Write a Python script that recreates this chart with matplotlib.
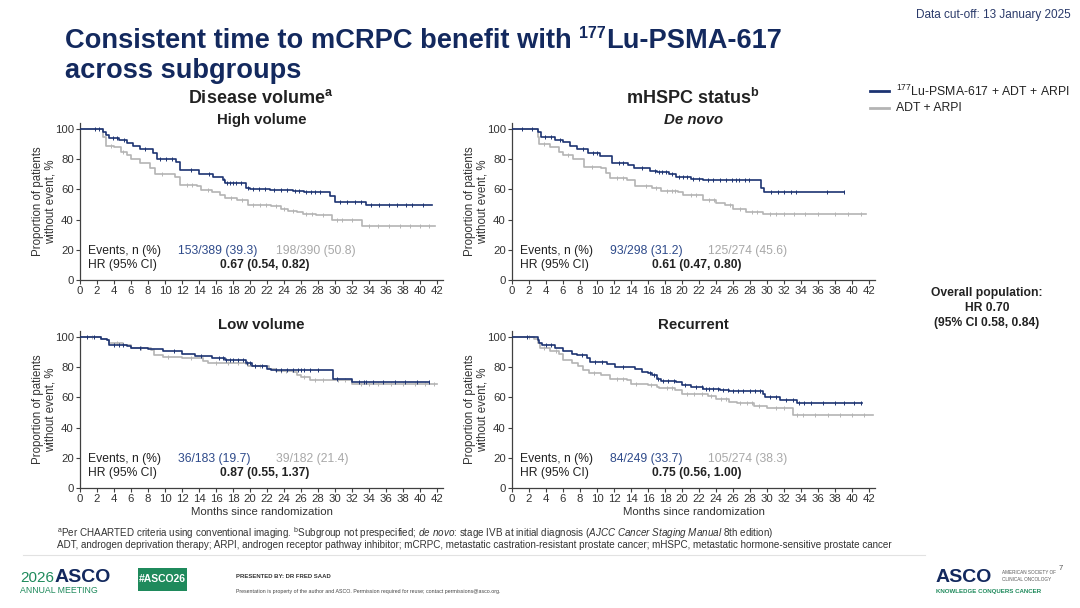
import matplotlib.pyplot as plt
from matplotlib.patches import Rectangle
import numpy as np

plt.rcParams['font.family'] = ['Liberation Sans', 'DejaVu Sans']
plt.rcParams['mathtext.fontset'] = 'custom'
plt.rcParams['mathtext.rm'] = 'Liberation Sans'
plt.rcParams['mathtext.bf'] = 'Liberation Sans:bold'
plt.rcParams['mathtext.it'] = 'Liberation Sans:italic'

NAVY = "#1c3372"
GRAY = "#b4b4b4"
TXT_NAVY = "#2e4a8a"
TXT_GRAY = "#a8a8a8"
TITLE = "#13295e"
AX = "#404040"

# ---- Kaplan-Meier step data (time in months, % without event) ----
# High volume
hv_lu_t = [0, 2.7, 3.0, 3.4, 4.6, 5.5, 6.2, 7.0, 8.6, 9.0, 11.3, 11.8, 14.0, 15.7, 16.8, 17.1,
           19.5, 20.0, 22.4, 25.0, 26.3, 29.4, 30.0, 33.7, 41.4]
hv_lu_s = [100, 98, 96, 94, 93, 91, 89, 87, 84, 80, 78, 73, 70, 68, 66, 64,
           61, 60, 59.5, 59, 58, 55.5, 52, 50, 50]
hv_lu_c = [1.8, 2.2, 3.9, 4.4, 5.2, 7.6, 9.4, 10.1, 10.8, 13.0, 15.2, 16.9, 17.3, 17.6, 18.0, 18.4,
           18.9, 19.8, 20.3, 21.0, 21.8, 22.8, 23.6, 24.4, 25.3, 25.8, 26.6, 27.2, 27.7, 28.2,
           30.6, 31.4, 32.3, 33.0, 34.2, 35.2, 36.3, 37.3, 38.4, 39.1, 40.3]
hv_adt_t = [0, 2.7, 3.0, 4.0, 4.8, 5.5, 6.0, 7.0, 8.2, 8.8, 11.2, 11.8, 13.8, 14.2, 15.5, 16.5,
            17.0, 18.5, 19.8, 22.5, 23.6, 24.5, 25.5, 26.2, 27.8, 29.7, 31.0, 33.2, 41.8]
hv_adt_s = [100, 95, 89, 88, 85, 83, 80, 77.5, 74, 70.5, 68, 63, 62, 59.5, 58, 56,
            54, 53, 50, 49, 47, 46, 45, 43.5, 43, 40, 39.5, 35.5, 35.5]
hv_adt_c = [3.6, 5.0, 9.6, 12.6, 13.2, 15.0, 17.8, 19.0, 20.4, 21.2, 21.9, 23.0, 24.0, 25.0, 26.6,
            27.3, 28.6, 30.2, 30.8, 32.0, 34.0, 35.0, 36.3, 37.6, 38.8, 40.0, 41.0]

# De novo
dn_lu_t = [0, 3.0, 3.4, 5.0, 6.0, 6.8, 7.7, 8.9, 10.4, 11.8, 13.6, 14.4, 16.2, 17.0, 18.5, 19.3,
           21.0, 22.5, 29.3, 29.7, 39.1]
dn_lu_s = [100, 98, 94.5, 93, 91.5, 89, 87, 84, 82, 77.5, 76, 74, 72, 71.3, 70, 68,
           67, 66, 61, 58.5, 58.5]
dn_lu_c = [1.2, 2.4, 3.9, 4.6, 5.6, 8.3, 9.5, 10.0, 12.6, 13.0, 15.3, 16.8, 17.3, 17.7, 18.1, 18.8,
           19.6, 20.1, 20.6, 21.3, 22.0, 23.0, 23.7, 24.5, 25.2, 25.9, 26.3, 26.7, 27.4, 27.9,
           30.5, 31.3, 32.0, 32.8, 33.4, 37.0, 39.0]
dn_adt_t = [0, 3.0, 3.2, 4.5, 5.5, 6.0, 7.2, 8.5, 10.5, 11.0, 11.5, 13.5, 14.5, 16.5, 17.5, 19.5,
            20.1, 22.5, 24.0, 25.0, 26.0, 27.5, 29.5, 41.6]
dn_adt_s = [100, 95, 90, 88, 85, 82.5, 80, 75, 74, 71, 67.5, 66, 62.5, 61, 59, 58,
            56, 53.3, 51, 49.5, 47, 45, 43.7, 43.7]
dn_adt_c = [3.8, 6.6, 9.4, 12.4, 13.0, 15.8, 16.9, 18.2, 18.8, 19.2, 21.0, 21.7, 23.2, 23.8, 25.6,
            26.8, 28.2, 28.8, 30.3, 31.0, 32.0, 33.2, 34.5, 36.0, 38.0, 39.5, 41.0]

# Low volume
lv_lu_t = [0, 2.5, 3.2, 3.4, 5.5, 6.0, 8.0, 9.8, 12.0, 13.5, 15.5, 17.0, 19.5, 20.2, 22.0, 22.5,
           29.8, 32.0, 41.0]
lv_lu_s = [100, 99, 98, 95, 94, 93, 92, 90.5, 89, 87.5, 86, 84.5, 83, 81, 79, 78,
           72.5, 70, 70]
lv_lu_c = [0.8, 1.6, 4.0, 4.6, 5.0, 7.0, 11.0, 14.2, 16.4, 16.8, 17.2, 17.6, 18.0, 18.6, 19.2,
           19.7, 20.0, 20.6, 21.4, 23.0, 23.6, 24.4, 25.0, 25.6, 26.0, 26.4, 27.0, 28.0, 30.2,
           32.8, 33.4, 33.7, 34.5, 35.6, 37.0, 38.2, 39.6, 41.0]
lv_adt_t = [0, 2.5, 3.2, 3.4, 5.0, 6.0, 8.3, 8.7, 9.8, 12.0, 14.5, 15.0, 19.5, 19.8, 22.2, 23.0,
            25.0, 25.5, 26.0, 27.0, 32.0, 42.0]
lv_adt_s = [100, 99, 98, 96, 95, 93, 91.5, 88, 87, 86, 84, 83, 82, 80.5, 79, 77.5,
            77, 75, 73.5, 71.5, 68.8, 68.8]
lv_adt_c = [1.4, 4.4, 7.2, 10.4, 13.0, 16.0, 17.4, 18.6, 20.6, 21.2, 23.6, 24.2, 26.4, 27.6, 28.6,
            30.4, 31.2, 33.0, 34.0, 35.0, 36.6, 38.0, 39.4, 40.6, 41.6]

# Recurrent
re_lu_t = [0, 3.0, 3.2, 3.5, 5.0, 6.0, 7.0, 7.6, 8.8, 9.2, 11.2, 12.1, 14.5, 15.3, 16.0, 16.5,
           17.0, 17.5, 19.3, 20.0, 21.0, 22.5, 24.5, 25.5, 29.5, 29.8, 31.5, 33.5, 41.2]
re_lu_s = [100, 98, 96, 95, 93, 91, 89, 88.4, 86, 83.5, 82, 80, 79, 77, 76, 75,
           72, 71, 70, 68, 67, 65.7, 65, 64, 62, 60, 58, 56, 56]
re_lu_c = [1.8, 4.0, 4.6, 8.2, 9.8, 10.6, 13.0, 16.2, 16.7, 17.2, 17.8, 18.3, 19.0, 20.4, 21.6,
           22.3, 22.8, 23.2, 23.7, 24.2, 24.8, 25.4, 26.0, 26.6, 27.2, 28.0, 28.6, 29.2, 30.4,
           31.0, 32.2, 33.0, 33.8, 34.4, 35.2, 36.6, 38.0, 39.0, 40.2, 41.0]
re_adt_t = [0, 2.6, 3.0, 3.3, 4.5, 5.5, 6.0, 7.0, 7.8, 8.4, 9.0, 10.5, 11.5, 13.5, 14.0, 16.0,
            17.0, 17.3, 19.2, 20.0, 23.0, 24.0, 25.5, 26.5, 28.5, 30.0, 33.1, 42.5]
re_adt_s = [100, 99, 96, 93, 91, 89, 85, 83, 81, 78, 76, 75, 72, 71.5, 69, 68,
            67, 66, 65, 62, 61, 59, 57, 56, 54, 53, 48.3, 48.3]
re_adt_c = [2.0, 3.8, 5.2, 9.6, 12.4, 13.0, 14.6, 16.4, 18.2, 18.8, 20.6, 21.4, 22.4, 23.4, 24.6,
            25.2, 26.8, 27.6, 28.2, 29.0, 31.0, 32.0, 33.5, 34.2, 35.6, 37.2, 38.6, 40.0, 41.4]

# ---- annotations ----
subtitles = ["High volume", "De novo", "Low volume", "Recurrent"]
subtitle_style = ["normal", "italic", "normal", "normal"]
events_lu = ["153/389 (39.3)", "93/298 (31.2)", "36/183 (19.7)", "84/249 (33.7)"]
events_adt = ["198/390 (50.8)", "125/274 (45.6)", "39/182 (21.4)", "105/274 (38.3)"]
hr_text = ["0.67 (0.54, 0.82)", "0.61 (0.47, 0.80)", "0.87 (0.55, 1.37)", "0.75 (0.56, 1.00)"]
x_ticks = list(range(0, 43, 2))
y_ticks = [0, 20, 40, 60, 80, 100]

panels = [
    (hv_lu_t, hv_lu_s, hv_lu_c, hv_adt_t, hv_adt_s, hv_adt_c),
    (dn_lu_t, dn_lu_s, dn_lu_c, dn_adt_t, dn_adt_s, dn_adt_c),
    (lv_lu_t, lv_lu_s, lv_lu_c, lv_adt_t, lv_adt_s, lv_adt_c),
    (re_lu_t, re_lu_s, re_lu_c, re_adt_t, re_adt_s, re_adt_c),
]

W, H = 1080, 608
fig = plt.figure(figsize=(W / 100, H / 100), dpi=100)


def fx(x):
    return x / W


def fy(y):
    return 1 - y / H


def step_value(t, s, x):
    i = np.searchsorted(t, x, side="right") - 1
    return np.array(s)[i]


# axes positions in pixels (left, top) and subtitle centre y
pos = [(80, 123), (512, 123), (80, 331), (512, 331)]
sub_y = [120, 120, 325, 325]
aw, ah = 363, 157

for k, (lt, ls, lc, at, as_, ac) in enumerate(panels):
    L, T = pos[k]
    ax = fig.add_axes([fx(L), fy(T + ah), aw / W, ah / H])
    ax.step(at, as_, where="post", color=GRAY, lw=1.2, zorder=2)
    ax.plot(ac, step_value(at, as_, ac), ls="none", marker="|", ms=3.5, mew=0.7, color=GRAY, zorder=2)
    ax.step(lt, ls, where="post", color=NAVY, lw=1.2, zorder=3)
    ax.plot(lc, step_value(lt, ls, lc), ls="none", marker="|", ms=3.5, mew=0.7, color=NAVY, zorder=3)

    ax.set_xlim(0, 42.7)
    ax.set_ylim(0, 104)
    ax.set_xticks(x_ticks)
    ax.set_yticks(y_ticks)
    for side in ["top", "right"]:
        ax.spines[side].set_visible(False)
    for side in ["left", "bottom"]:
        ax.spines[side].set_color(AX)
        ax.spines[side].set_linewidth(0.9)
    ax.tick_params(length=3, width=0.8, color=AX, labelsize=8.2, labelcolor="#333333", pad=1.5)
    ax.set_ylabel("Proportion of patients\nwithout event, %", fontsize=8.3, color="#333333",
                  linespacing=1.0)
    ax.yaxis.set_label_coords(-0.066, 0.5)

    ax.text(0.9, 19, "Events, n (%)", fontsize=8.7, color="#222222", va="center")
    ax.text(0.9, 10, "HR (95% CI)", fontsize=8.7, color="#222222", va="center")
    ax.text(11.5, 19, events_lu[k], fontsize=8.7, color=TXT_NAVY, va="center")
    ax.text(23.0, 19, events_adt[k], fontsize=8.7, color=TXT_GRAY, va="center")
    ax.text(16.5, 10, hr_text[k], fontsize=8.7, fontweight="bold", color="#222222", va="center")

    fig.text(fx(L + aw / 2), fy(sub_y[k]), subtitles[k], ha="center", va="center",
             fontsize=10.8, fontweight="bold", fontstyle=subtitle_style[k], color="#222222")
    if k >= 2:
        ax.set_xlabel("Months since randomization", fontsize=8.2, color="#333333", labelpad=2)

# group headings
fig.text(fx(261), fy(98), r"Disease volume$^{\mathbf{a}}$", ha="center", va="center",
         fontsize=13, fontweight="bold", color="#222222")
fig.text(fx(693), fy(98), r"mHSPC status$^{\mathbf{b}}$", ha="center", va="center",
         fontsize=13, fontweight="bold", color="#222222")

# title, with the small superscript placed after the first part
t1 = fig.text(fx(65), fy(41), "Consistent time to mCRPC benefit with ", ha="left", va="center",
              fontsize=19.6, fontweight="bold", color=TITLE)
renderer = fig.canvas.get_renderer()
bb = t1.get_window_extent(renderer)
t2 = fig.text(bb.x1 / W, fy(33), "177", ha="left", va="center", fontsize=11.5,
              fontweight="bold", color=TITLE)
bb2 = t2.get_window_extent(renderer)
fig.text(bb2.x1 / W, fy(41), "Lu-PSMA-617", ha="left", va="center", fontsize=19.6,
         fontweight="bold", color=TITLE)
fig.text(fx(65), fy(71), "across subgroups", ha="left", va="center", fontsize=19.6,
         fontweight="bold", color=TITLE)
fig.text(fx(1071), fy(15), "Data cut-off: 13 January 2025", ha="right", va="center",
         fontsize=8.5, color="#2a3a6a")

# legend
fig.add_artist(plt.Line2D([fx(870), fx(889)], [fy(91), fy(91)], color=NAVY, lw=2))
fig.add_artist(plt.Line2D([fx(870), fx(889)], [fy(108), fy(108)], color=GRAY, lw=2))
fig.text(fx(896), fy(91), r"$^{177}$Lu-PSMA-617 + ADT + ARPI", ha="left", va="center",
         fontsize=8.8, color="#222222")
fig.text(fx(896), fy(108), "ADT + ARPI", ha="left", va="center", fontsize=8.8, color="#222222")

fig.text(fx(987), fy(308), "Overall population:\nHR 0.70\n(95% CI 0.58, 0.84)", ha="center",
         va="center", fontsize=8.7, fontweight="bold", color="#222222", linespacing=1.3)

# footnotes
fig.text(fx(57), fy(533), r"$^{\mathrm{a}}$Per CHAARTED criteria using conventional imaging. "
         r"$^{\mathrm{b}}$Subgroup not prespecified; $\mathit{de\ novo}$: stage IVB at initial diagnosis "
         r"($\mathit{AJCC\ Cancer\ Staging\ Manual}$ 8th edition)",
         ha="left", va="center", fontsize=7.1, color="#333333")
fig.text(fx(57), fy(545), "ADT, androgen deprivation therapy; ARPI, androgen receptor pathway inhibitor; "
         "mCRPC, metastatic castration-resistant prostate cancer; mHSPC, metastatic hormone-sensitive prostate cancer",
         ha="left", va="center", fontsize=7.1, color="#333333")
fig.add_artist(plt.Line2D([fx(23), fx(925)], [fy(555), fy(555)], color="#e2e2e2", lw=0.8))

# footer
GREEN = "#1f8a5c"
fig.text(fx(20), fy(578), "2026", ha="left", va="center", fontsize=11, color=GREEN)
fig.text(fx(55), fy(577), "ASCO", ha="left", va="center", fontsize=14, fontweight="bold", color=TITLE)
fig.text(fx(20), fy(590.5), "ANNUAL MEETING", ha="left", va="center", fontsize=6.3, color=GREEN)
fig.add_artist(Rectangle((fx(138), fy(591)), 49 / W, 23 / H, transform=fig.transFigure,
                         facecolor=GREEN, edgecolor="none"))
fig.text(fx(162.5), fy(579.5), "#ASCO26", ha="center", va="center", fontsize=7.5,
         fontweight="bold", color="white")
fig.text(fx(236), fy(576), "PRESENTED BY: DR FRED SAAD", ha="left", va="center", fontsize=4.3,
         fontweight="bold", color="#333333")
fig.text(fx(236), fy(591), "Presentation is property of the author and ASCO. Permission required for reuse; "
         "contact permissions@asco.org.", ha="left", va="center", fontsize=3.8, color="#444444")
fig.text(fx(936), fy(578), "ASCO", ha="left", va="center", fontsize=14, fontweight="bold", color=TITLE)
fig.text(fx(1002), fy(576), "AMERICAN SOCIETY OF\nCLINICAL ONCOLOGY", ha="left", va="center",
         fontsize=3.3, color="#555555", linespacing=1.4)
fig.text(fx(1061), fy(569), "7", ha="center", va="center", fontsize=5.5, color="#555555")
fig.text(fx(936), fy(592), "KNOWLEDGE CONQUERS CANCER", ha="left", va="center", fontsize=4.4,
         fontweight="bold", color=GREEN)

fig.savefig("out.png", dpi=100)
